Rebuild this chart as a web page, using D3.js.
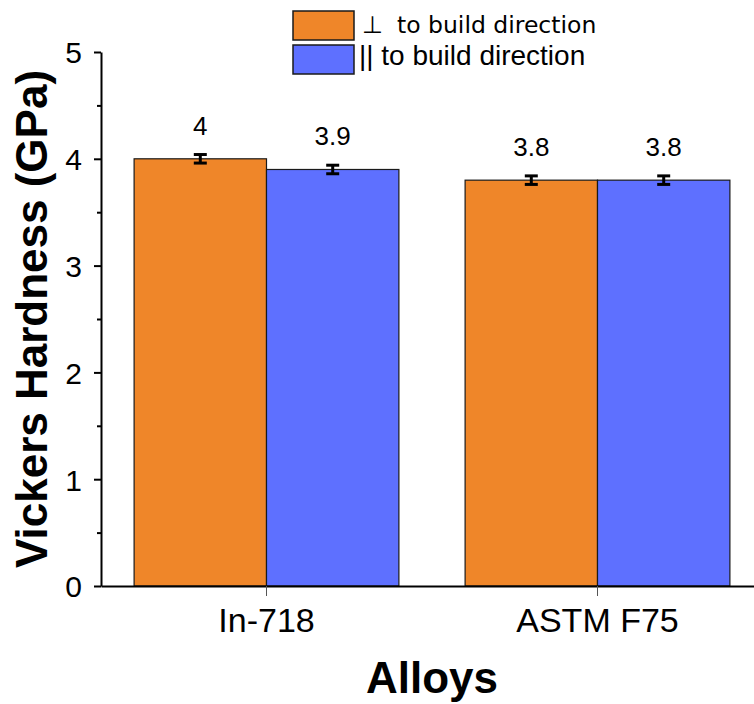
<!DOCTYPE html>
<html>
<head>
<meta charset="utf-8">
<script src="https://cdn.jsdelivr.net/npm/d3@7"></script>
<style>
  body { margin: 0; background: #fff; }
  svg { display: block; font-family: "Liberation Sans", Arial, sans-serif; }
</style>
</head>
<body>
<svg id="chart"></svg>
<script>
// data
var alloys = ["In-718", "ASTM F75"];
var seriesNames = ["perp", "par"];
var seriesLabels = ["to build direction", "|| to build direction"];
var perpValues = [4.0, 3.8];
var parValues = [3.9, 3.8];
var perpErrors = [0.04, 0.04];
var parErrors = [0.04, 0.04];
var valueLabels = [["4", "3.9"], ["3.8", "3.8"]];
var yTicks = [0, 1, 2, 3, 4, 5];
var yMinorTicks = [0.5, 1.5, 2.5, 3.5, 4.5];

var colors = {perp: "#EF8629", par: "#5E70FF"};

var margin = {top: 52, right: 0, bottom: 118, left: 101},
    width = 662,
    height = 534;

var svg = d3.select("#chart")
    .attr("width", 754)
    .attr("height", 704)
  .append("g")
    .attr("transform", "translate(" + margin.left + "," + margin.top + ")");

// build rows for the bars
var rows = alloys.map(function(a, i) {
  return {
    alloy: a,
    bars: [
      {key: "perp", value: perpValues[i], err: perpErrors[i], label: valueLabels[i][0]},
      {key: "par", value: parValues[i], err: parErrors[i], label: valueLabels[i][1]}
    ]
  };
});

var x0 = d3.scaleBand()
    .domain(alloys)
    .range([0, width])
    .paddingInner(0.2)
    .paddingOuter(0.1);

var x1 = d3.scaleBand()
    .domain(seriesNames)
    .range([0, x0.bandwidth()]);

var y = d3.scaleLinear()
    .domain([0, 5])
    .range([height, 0]);

// bars
var groups = svg.selectAll("g.group")
    .data(rows)
  .enter().append("g")
    .attr("class", "group")
    .attr("transform", function(d) { return "translate(" + x0(d.alloy) + ",0)"; });

groups.selectAll("rect")
    .data(function(d) { return d.bars; })
  .enter().append("rect")
    .attr("x", function(d) { return x1(d.key); })
    .attr("y", function(d) { return y(d.value); })
    .attr("width", x1.bandwidth())
    .attr("height", function(d) { return height - y(d.value); })
    .style("fill", function(d) { return colors[d.key]; })
    .style("stroke", "#1a1a1a")
    .style("stroke-width", 1.2);

// error bars
var eb = groups.selectAll("g.err")
    .data(function(d) { return d.bars; })
  .enter().append("g")
    .attr("class", "err")
    .attr("transform", function(d) { return "translate(" + (x1(d.key) + x1.bandwidth() / 2) + ",0)"; });

eb.append("line")
    .attr("x1", 0).attr("x2", 0)
    .attr("y1", function(d) { return y(d.value + d.err); })
    .attr("y2", function(d) { return y(d.value - d.err); })
    .style("stroke", "#000").style("stroke-width", 3);
eb.append("line")
    .attr("x1", -6.5).attr("x2", 6.5)
    .attr("y1", function(d) { return y(d.value + d.err); })
    .attr("y2", function(d) { return y(d.value + d.err); })
    .style("stroke", "#000").style("stroke-width", 3);
eb.append("line")
    .attr("x1", -6.5).attr("x2", 6.5)
    .attr("y1", function(d) { return y(d.value - d.err); })
    .attr("y2", function(d) { return y(d.value - d.err); })
    .style("stroke", "#000").style("stroke-width", 3);

// value labels
groups.selectAll("text.val")
    .data(function(d) { return d.bars; })
  .enter().append("text")
    .attr("class", "val")
    .attr("x", function(d) { return x1(d.key) + x1.bandwidth() / 2; })
    .attr("y", function(d) { return y(d.value) - 24; })
    .style("text-anchor", "middle")
    .style("font-size", "26px")
    .text(function(d) { return d.label; });

// Y axis
var yAxis = svg.append("g")
    .call(d3.axisLeft(y).tickValues(yTicks).tickFormat(d3.format("d"))
      .tickSize(7).tickSizeOuter(0).tickPadding(12));
yAxis.select(".domain").style("stroke", "#000").style("stroke-width", 2);
yAxis.selectAll(".tick line").style("stroke", "#000").style("stroke-width", 2);
yAxis.selectAll(".tick text")
    .style("font-size", "30px")
    .style("font-family", "'Liberation Sans', Arial, sans-serif")
    .attr("dy", "0.36em").style("fill", "#000");

var yMinor = svg.append("g")
    .call(d3.axisLeft(y).tickValues(yMinorTicks).tickSize(4).tickSizeOuter(0).tickFormat(""));
yMinor.select(".domain").remove();
yMinor.selectAll(".tick line").style("stroke", "#000").style("stroke-width", 2);

// X axis
var xAxis = svg.append("g")
    .attr("transform", "translate(0," + height + ")")
    .call(d3.axisBottom(x0).tickSize(10).tickSizeOuter(0).tickPadding(12));
xAxis.select(".domain").style("stroke", "#000").style("stroke-width", 2);
xAxis.selectAll(".tick line").style("stroke", "#555").style("stroke-width", 1);
xAxis.selectAll(".tick text")
    .style("font-size", "34px")
    .style("font-family", "'Liberation Sans', Arial, sans-serif")
    .attr("dy", "0.72em").style("fill", "#000");

// axis titles
svg.append("text")
    .attr("x", 432 - margin.left)
    .attr("y", 693 - margin.top)
    .style("text-anchor", "middle")
    .style("font-size", "44px")
    .style("font-weight", "bold")
    .text("Alloys");

svg.append("text")
    .attr("transform", "translate(" + (47 - margin.left) + "," + (319 - margin.top) + ") rotate(-90)")
    .style("text-anchor", "middle")
    .style("font-size", "44px")
    .style("font-weight", "bold")
    .text("Vickers Hardness (GPa)");

// legend
var legend = svg.append("g")
    .attr("transform", "translate(" + (293 - margin.left) + "," + (11 - margin.top) + ")");

legend.append("rect")
    .attr("x", 0).attr("y", 0).attr("width", 61).attr("height", 29)
    .style("fill", colors.perp).style("stroke", "#1a1a1a").style("stroke-width", 1.5);
legend.append("rect")
    .attr("x", 0).attr("y", 34).attr("width", 61).attr("height", 29)
    .style("fill", colors.par).style("stroke", "#1a1a1a").style("stroke-width", 1.5);

legend.append("text")
    .attr("x", 69).attr("y", 22)
    .style("font-family", "'DejaVu Sans', sans-serif")
    .style("font-size", "24px")
    .text("\u22A5");
legend.append("text")
    .attr("x", 104).attr("y", 22)
    .style("font-family", "'DejaVu Sans', sans-serif")
    .style("font-size", "23.5px")
    .text(seriesLabels[0]);
legend.append("text")
    .attr("x", 66).attr("y", 54)
    .style("font-size", "28px")
    .text(seriesLabels[1]);
</script>
</body>
</html>
